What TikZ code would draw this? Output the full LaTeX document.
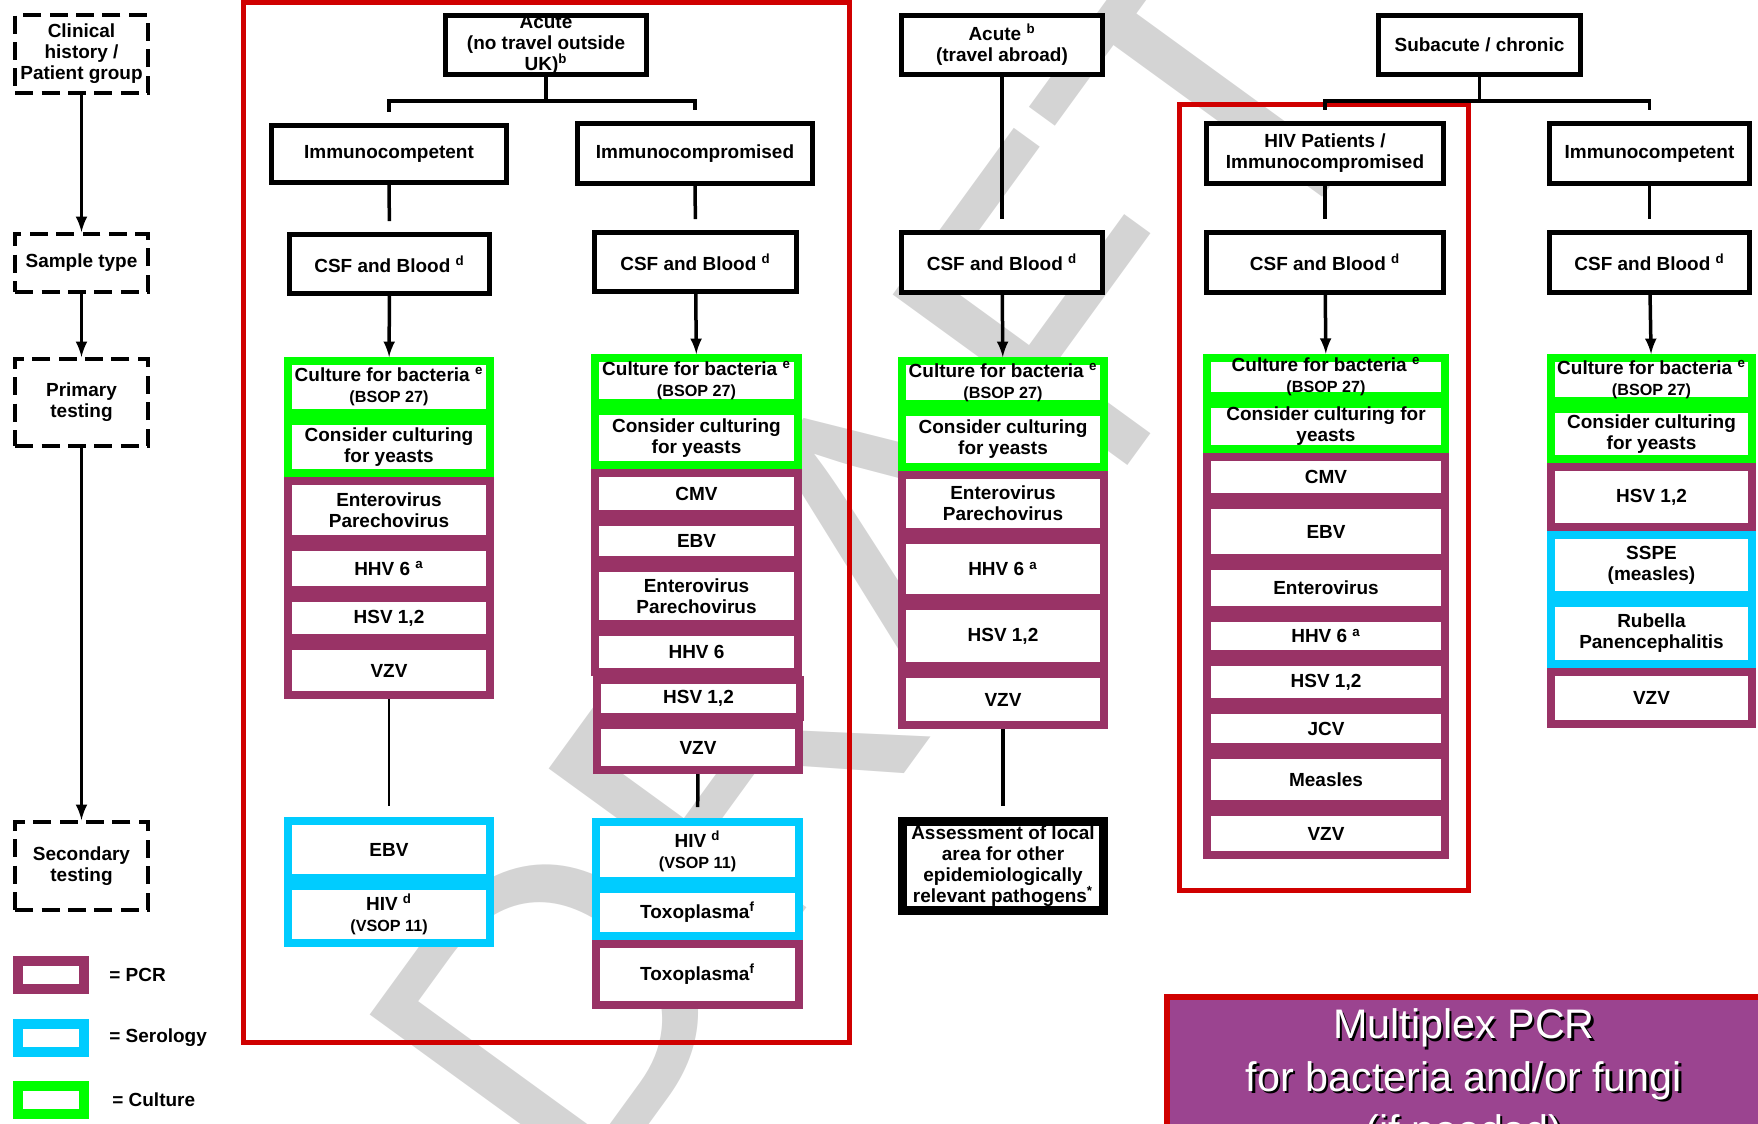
\documentclass[tikz,border=0pt]{standalone}
\usepackage{fontspec}
\setmainfont{Liberation Sans}
\usepackage{tikz}

\definecolor{pcr}{RGB}{153,51,102}
\definecolor{sero}{RGB}{0,204,255}
\definecolor{cult}{RGB}{0,255,0}
\definecolor{frame}{RGB}{208,0,0}
\definecolor{mplex}{RGB}{155,68,144}
\definecolor{wmark}{RGB}{212,212,212}
\newcommand\fnm[1]{\textsuperscript{#1}}
\newcommand\smalltxt[1]{{\fontsize{9.2}{10}\selectfont #1}}
\newcommand\shadowed[1]{\leavevmode\rlap{\kern1.3pt\raisebox{-1.3pt}{\color{black}#1}}#1}

\begin{document}
\begin{tikzpicture}[x=0.02cm, y=-0.02cm, hbox/.style={draw, fill=white, line width=0.1cm, inner sep=0pt, align=center, font=\bfseries\fontsize{10.8}{12}\selectfont}, tcell/.style={hbox, line width=0.16cm}, pcrcell/.style={tcell, draw=pcr}, serocell/.style={tcell, draw=sero}, cultcell/.style={tcell, draw=cult}, stage/.style={hbox, dash pattern=on 0.36cm off 0.17cm, line width=0.08cm, minimum width=2.66cm}, swatch/.style={draw, fill=white, line width=0.2cm, minimum width=1.32cm, minimum height=0.56cm, inner sep=0pt}, keytext/.style={anchor=west, inner sep=0pt, font=\bfseries\fontsize{10.8}{12}\selectfont}, mbox/.style={draw=frame, fill=mplex, line width=0.12cm, text=white, align=center, inner sep=0pt, font=\fontsize{23.5}{30}\selectfont}, wA/.style={minimum width=4.04cm}, wB/.style={minimum width=4.06cm}, wC/.style={minimum width=4.04cm}, wD/.style={minimum width=4.76cm}, wE/.style={minimum width=4.02cm}, arr/.style={-latex, line width=0.07cm}, link/.style={line width=0.07cm, shorten >=0.22cm}]
            \clip (0,0) rectangle (1758,1123);
            % watermark
            \node[text=wmark, rotate=54, font=\fontsize{240}{240}\selectfont] (wm) at (880,560) {DRAFT};
            % frames
            \draw[frame, line width=0.1cm] (243,2) rectangle (849,1042);
            \draw[frame, line width=0.1cm] (1179,104) rectangle (1468,890);
            % legend column
            \node[stage, minimum height=1.56cm] (clin) at (81.5,54) {Clinical\\history /\\Patient group};
            \node[stage, minimum height=1.16cm] (samp) at (81.5,263) {Sample type};
            \node[stage, minimum height=1.74cm] (prim) at (81.5,402.5) {Primary\\testing};
            \node[stage, minimum height=1.76cm] (sec) at (81.5,866) {Secondary\\testing};
            \node[swatch, draw=pcr] (kp) at (51,975) {};
            \node[swatch, draw=sero] (ks) at (51,1037.5) {};
            \node[swatch, draw=cult] (kc) at (51,1100) {};
            \node[keytext] (kpt) at (109,975) {= PCR};
            \node[keytext] (kst) at (109,1037.5) {= Serology};
            \node[keytext] (kct) at (112,1100) {= Culture};
            % acute, no travel
            \node[hbox, minimum width=4.02cm, minimum height=1.18cm] (acA) at (546,45) {Acute\\(no travel outside\\UK)\fnm{b}};
            \node[hbox, minimum width=4.70cm, minimum height=1.14cm] (imA) at (389,154) {Immunocompetent};
            \node[hbox, minimum width=4.70cm, minimum height=1.20cm] (imB) at (695,153.5) {Immunocompromised};
            \node[hbox, minimum width=4.00cm, minimum height=1.18cm] (csA) at (389.5,264) {CSF and Blood \fnm{d}};
            \node[hbox, minimum width=4.04cm, minimum height=1.18cm] (csB) at (695.5,262) {CSF and Blood \fnm{d}};
            \node[cultcell, wA, minimum height=1.04cm] (cbA) at (389,387) {Culture for bacteria \fnm{e}\\\smalltxt{(BSOP 27)}};
            \node[cultcell, wA, minimum height=1.04cm] (cyA) at (389,447) {Consider culturing\\for yeasts};
            \node[pcrcell, wA, minimum height=1.16cm] (enA) at (389,510) {Enterovirus\\Parechovirus};
            \node[pcrcell, wA, minimum height=0.86cm] (hhA) at (389,568.5) {HHV 6 \fnm{a}};
            \node[pcrcell, wA, minimum height=0.80cm] (hsA) at (389,618) {HSV 1,2};
            \node[pcrcell, wA, minimum height=0.98cm] (vzA) at (389,670.5) {VZV};
            \node[serocell, wA, minimum height=1.14cm] (ebA) at (389,849.5) {EBV};
            \node[serocell, wA, minimum height=1.14cm] (hiA) at (389,914.5) {HIV \fnm{d}\\\smalltxt{(VSOP 11)}};
            \node[cultcell, wB, minimum height=0.90cm] (cbB) at (696.5,380.5) {Culture for bacteria \fnm{e}\\\smalltxt{(BSOP 27)}};
            \node[cultcell, wB, minimum height=1.08cm] (cyB) at (696.5,438) {Consider culturing\\for yeasts};
            \node[pcrcell, wB, minimum height=0.82cm] (cmB) at (696.5,493.5) {CMV};
            \node[pcrcell, wB, minimum height=0.76cm] (ebB) at (696.5,541) {EBV};
            \node[pcrcell, wB, minimum height=1.12cm] (enB) at (696.5,596) {Enterovirus\\Parechovirus};
            \node[pcrcell, wB, minimum height=0.80cm] (hhB) at (696.5,652) {HHV 6};
            \node[pcrcell, wB, minimum height=0.74cm] (hsB) at (698.5,698.5) {HSV 1,2};
            \node[pcrcell, wB, minimum height=0.90cm] (vzB) at (698,747.5) {VZV};
            \node[serocell, wB, minimum height=1.18cm] (hiB) at (697.5,851.5) {HIV \fnm{d}\\\smalltxt{(VSOP 11)}};
            \node[serocell, wB, minimum height=0.94cm] (txB) at (697.5,912.5) {Toxoplasma\fnm{f}};
            \node[pcrcell, wB, minimum height=1.22cm] (tpB) at (697.5,974.5) {Toxoplasma\fnm{f}};
            % acute, travel abroad
            \node[hbox, minimum width=4.02cm, minimum height=1.18cm] (acC) at (1002,45) {Acute \fnm{b}\\(travel abroad)};
            \node[hbox, minimum width=4.02cm, minimum height=1.20cm] (csC) at (1002,262.5) {CSF and Blood \fnm{d}};
            \node[cultcell, wC, minimum height=0.86cm] (cbC) at (1003,382.5) {Culture for bacteria \fnm{e}\\\smalltxt{(BSOP 27)}};
            \node[cultcell, wC, minimum height=1.10cm] (cyC) at (1003,439.5) {Consider culturing\\for yeasts};
            \node[pcrcell, wC, minimum height=1.14cm] (enC) at (1003,503.5) {Enterovirus\\Parechovirus};
            \node[pcrcell, wC, minimum height=1.16cm] (hhC) at (1003,569) {HHV 6 \fnm{a}};
            \node[pcrcell, wC, minimum height=1.20cm] (hsC) at (1003,636) {HSV 1,2};
            \node[pcrcell, wC, minimum height=1.02cm] (vzC) at (1003,699.5) {VZV};
            \node[hbox, line width=0.18cm, minimum width=4.02cm, minimum height=1.78cm] (asC) at (1003,866) {Assessment of local\\area for other\\epidemiologically\\relevant pathogens\fnm{*}};
            % subacute / chronic
            \node[hbox, minimum width=4.04cm, minimum height=1.18cm] (sub) at (1479.5,45) {Subacute / chronic};
            \node[hbox, minimum width=4.74cm, minimum height=1.20cm] (hvD) at (1325,153.5) {HIV Patients /\\Immunocompromised};
            \node[hbox, minimum width=4.00cm, minimum height=1.20cm] (imE) at (1649.5,153.5) {Immunocompetent};
            \node[hbox, minimum width=4.74cm, minimum height=1.20cm] (csD) at (1325,262.5) {CSF and Blood \fnm{d}};
            \node[hbox, minimum width=4.00cm, minimum height=1.20cm] (csE) at (1649.5,262.5) {CSF and Blood \fnm{d}};
            \node[cultcell, wD, minimum height=0.76cm] (cbD) at (1326,377) {Culture for bacteria \fnm{e}\\\smalltxt{(BSOP 27)}};
            \node[cultcell, wD, minimum height=0.90cm] (cyD) at (1326,426.5) {Consider culturing for\\yeasts};
            \node[pcrcell, wD, minimum height=0.80cm] (cmD) at (1326,477) {CMV};
            \node[pcrcell, wD, minimum height=1.06cm] (ebD) at (1326,531.5) {EBV};
            \node[pcrcell, wD, minimum height=0.88cm] (enD) at (1326,588) {Enterovirus};
            \node[pcrcell, wD, minimum height=0.72cm] (hhD) at (1326,636) {HHV 6 \fnm{a}};
            \node[pcrcell, wD, minimum height=0.80cm] (hsD) at (1326,682) {HSV 1,2};
            \node[pcrcell, wD, minimum height=0.74cm] (jcD) at (1326,728.5) {JCV};
            \node[pcrcell, wD, minimum height=0.98cm] (meD) at (1326,779.5) {Measles};
            \node[pcrcell, wD, minimum height=0.86cm] (vzD) at (1326,833.5) {VZV};
            \node[cultcell, wE, minimum height=0.86cm] (cbE) at (1651.5,379.5) {Culture for bacteria \fnm{e}\\\smalltxt{(BSOP 27)}};
            \node[cultcell, wE, minimum height=1.00cm] (cyE) at (1651.5,434) {Consider culturing\\for yeasts};
            \node[pcrcell, wE, minimum height=1.20cm] (hsE) at (1651.5,497) {HSV 1,2};
            \node[serocell, wE, minimum height=1.20cm] (ssE) at (1651.5,565) {SSPE\\(measles)};
            \node[serocell, wE, minimum height=1.22cm] (ruE) at (1651.5,633.5) {Rubella\\Panencephalitis};
            \node[pcrcell, wE, minimum height=1.04cm] (vzE) at (1651.5,698) {VZV};
            % multiplex
            \node[mbox, minimum width=11.9cm, minimum height=3.4cm] (mpx) at (1464,1082) {\shadowed{Multiplex PCR}\\\shadowed{for bacteria and/or fungi}\\\shadowed{(if needed)}};
            % edges
            \draw[arr] (clin) -- (samp);
            \draw[arr] (samp) -- (prim);
            \draw[arr] (prim) -- (sec);
            \draw[link] (acA.south) -- ++(0,24) -| (imA.north);
            \draw[link] (acA.south) -- ++(0,24) -| (imB.north);
            \draw[link] (imA) -- (csA);
            \draw[link] (imB) -- (csB);
            \draw[arr] (csA) -- (cbA);
            \draw[arr] (csB) -- (cbB);
            \draw[link, line width=0.05cm] (vzA) -- (ebA);
            \draw[link] (vzB) -- (hiB);
            \draw[link] (acC) -- (csC);
            \draw[arr] (csC) -- (cbC);
            \draw[link] (vzC) -- (asC);
            \draw[link] (sub.south) -- ++(0,24) -| (hvD.north);
            \draw[link] (sub.south) -- ++(0,24) -| (imE.north);
            \draw[link] (hvD) -- (csD);
            \draw[link] (imE) -- (csE);
            \draw[arr] (csD) -- (cbD);
            \draw[arr] (csE) -- (cbE);
        \end{tikzpicture}
\end{document}
